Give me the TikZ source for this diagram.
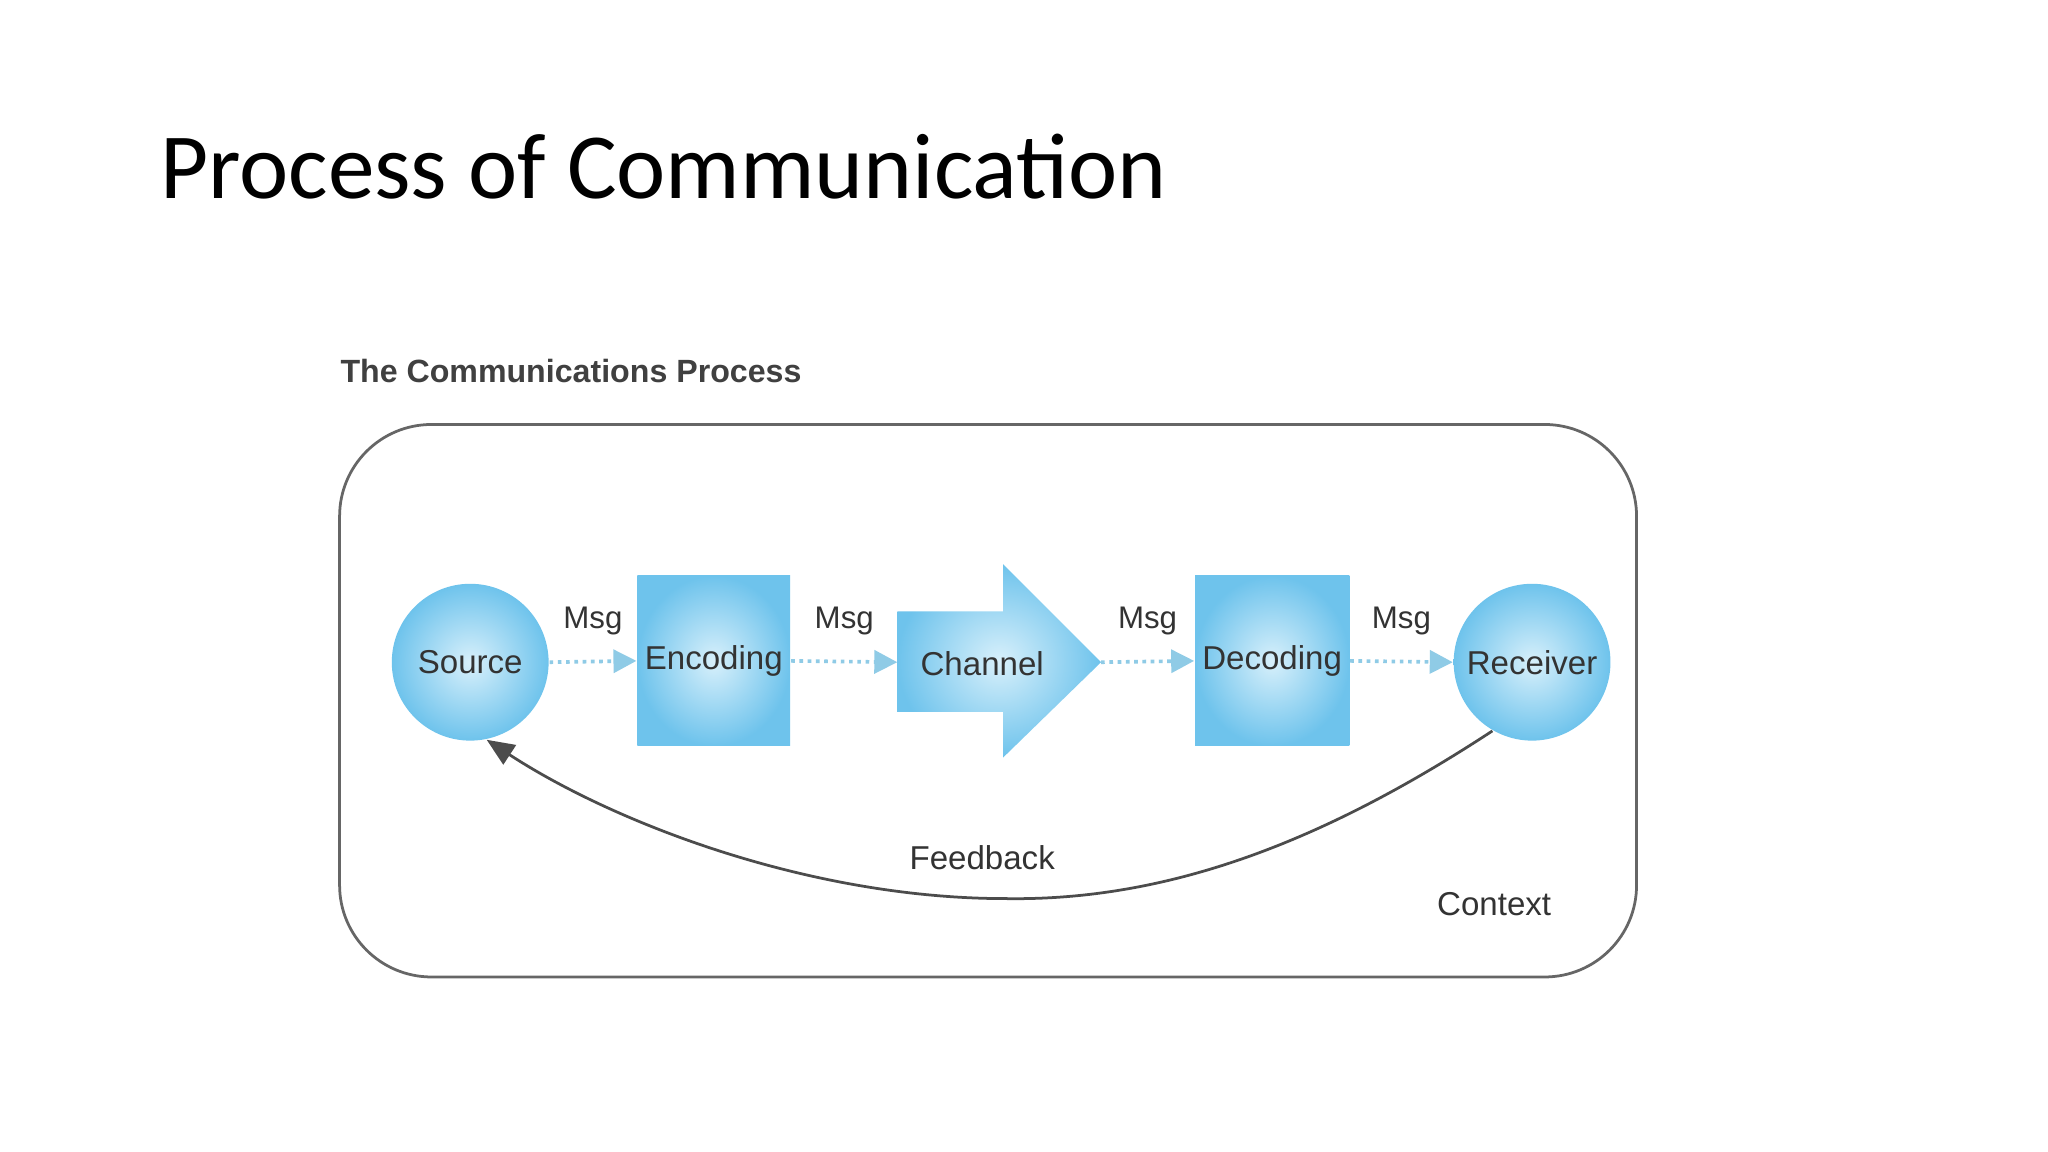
\documentclass[tikz,border=0pt]{standalone}
\usepackage{fontspec}
\setmainfont{Liberation Sans}
\newfontfamily\titlefont{Carlito}
\usetikzlibrary{arrows.meta}
\definecolor{bluefill}{HTML}{6EC3EC}
\definecolor{bluelight}{HTML}{D8F0FB}
\definecolor{msgarrow}{HTML}{8FCBE6}
\tikzset{
  blob/.style={inner color=bluelight, outer color=bluefill, draw=none, font=\fontsize{7.2}{9}\selectfont, text=black!80},
  lbl/.style={font=\fontsize{7.2}{9}\selectfont, text=black!80},
  msg/.style={font=\fontsize{6.8}{8}\selectfont, text=black!80},
  flow/.style={draw=msgarrow, densely dotted, line width=0.8pt, -{Triangle[length=5pt,width=5pt]}},
}
\begin{document}
\begin{tikzpicture}[x=0.01cm,y=-0.01cm]
\useasboundingbox (0,0) rectangle (1568,882);
\fill[white] (0,0) rectangle (1568,882);
\node[anchor=base west, inner sep=0, font=\titlefont\fontsize{20.3}{24}\selectfont] (title) at (122,152) {Process of Communication};
\node[anchor=base west, inner sep=0, font=\bfseries\fontsize{7}{8}\selectfont, text=black!75] (sub) at (260,293) {The Communications Process};
\draw[black!60, line width=0.6pt, rounded corners=20pt] (260,325) rectangle (1253,748);
\node[blob, circle, minimum size=1.2cm, inner sep=0] (src) at (360,507) {Source};
\node[blob, rectangle, minimum width=1.17cm, minimum height=1.3cm, inner sep=0] (enc) at (546.5,506) {Encoding};
\shade[inner color=bluelight, outer color=bluefill] (687,468) -- (768,468) -- (768,432) -- (843,507) -- (768,580) -- (768,545) -- (687,545) -- cycle;
\coordinate (chanw) at (687,507);
\coordinate (chantip) at (843,507);
\node[lbl] (chan) at (752,508) {Channel};
\node[blob, rectangle, minimum width=1.18cm, minimum height=1.3cm, inner sep=0] (dec) at (974,506) {Decoding};
\node[blob, circle, minimum size=1.2cm, inner sep=0] (rec) at (1173,507) {Receiver};
\draw[flow] (src.east) -- (enc.west) node[msg, midway, above=2pt] (m1) {Msg};
\draw[flow] (enc.east) -- (chanw) node[msg, midway, above=2pt] (m2) {Msg};
\draw[flow] (chantip) -- (dec.west) node[msg, midway, above=2pt] (m3) {Msg};
\draw[flow] (dec.east) -- (rec.west) node[msg, midway, above=2pt] (m4) {Msg};
\draw[black!70, line width=0.6pt, -{Triangle[length=6pt,width=5pt]}] (rec.240) .. controls (1020,640) and (900,690) .. (770,688) .. controls (620,688) and (470,630) .. (src.-78);
\node[lbl] (fb) at (752,657) {Feedback};
\node[lbl] (ctx) at (1144,692) {Context};
\end{tikzpicture}
\end{document}
